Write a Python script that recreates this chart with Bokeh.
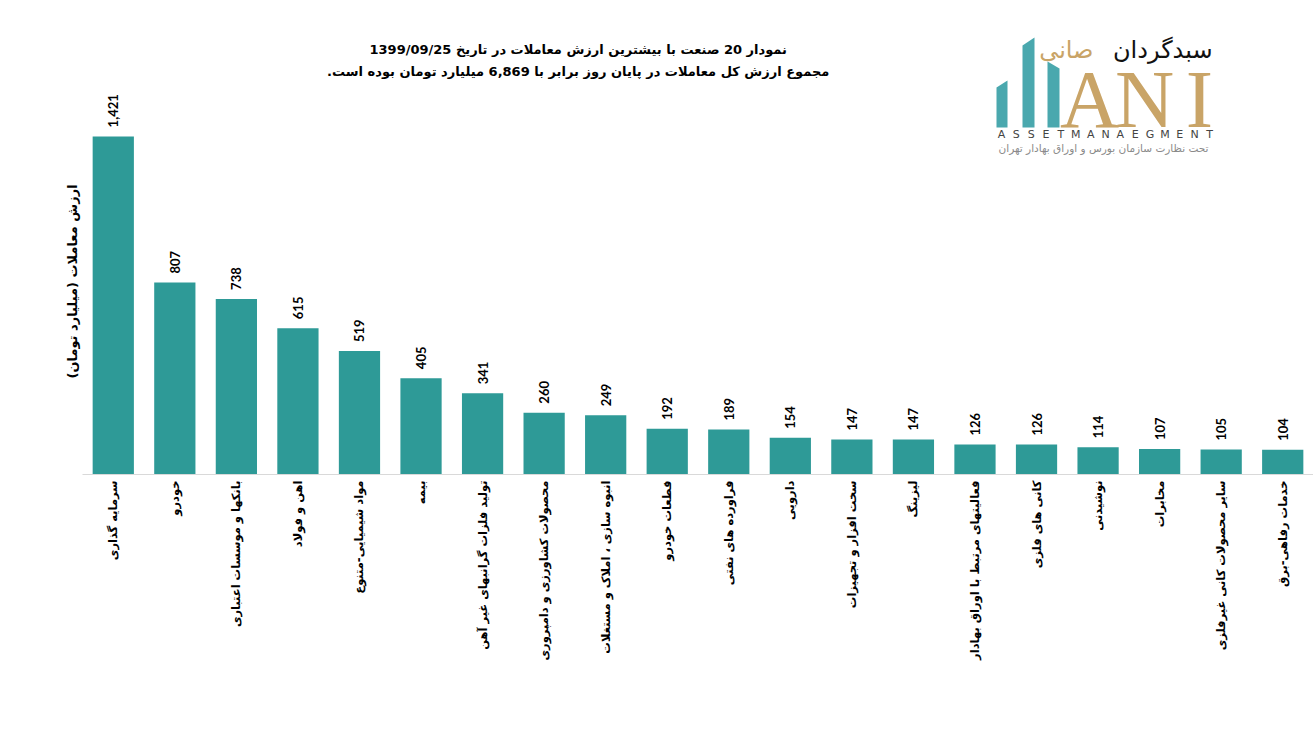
import math
from bokeh.plotting import figure
from bokeh.models import FactorRange, Range1d, ColumnDataSource, Title
from bokeh.core.properties import value
from bokeh.embed import file_html
from bokeh.resources import INLINE

RLM = "\u200f"

# ---------------- data ----------------
categories = [
    "سرمایه گذاری",
    "خودرو",
    "بانکها و موسسات اعتباری",
    "اهن و فولاد",
    "مواد شیمیایی-متنوع",
    "بیمه",
    "تولید فلزات گرانبهای غیر آهن",
    "محصولات کشاورزی و دامپروری",
    "انبوه سازی ، املاک و مستغلات",
    "قطعات خودرو",
    "فراورده های نفتی",
    "دارویی",
    "سخت افزار و تجهیزات",
    "لیزینگ",
    "فعالیتهای مرتبط با اوراق بهادار",
    "کانی های فلزی",
    "نوشیدنی",
    "مخابرات",
    "سایر محصولات کانی غیرفلزی",
    "خدمات رفاهی-برق",
]
values = [1421, 807, 738, 615, 519, 405, 341, 260, 249, 192,
          189, 154, 147, 147, 126, 126, 114, 107, 105, 104]
value_labels = [f"{v:,}" for v in values]

title_line1 = "نمودار  20 صنعت با بیشترین ارزش معاملات در تاریخ 1399/09/25"
title_line2 = "مجموع ارزش  کل معاملات در پایان روز برابر با 6,869 میلیارد تومان بوده است."
y_title = "ارزش معاملات (میلیارد تومان)"

logo_fa_black = "سبدگردان"
logo_fa_tan = "صانی"
logo_latin = ["A", "N", "I"]
logo_en_small = "ASSETMANAEGMENT"
logo_fa_small = "تحت نظارت سازمان بورس و اوراق بهادار تهران"

# ---------------- styles ----------------
BAR = "#2E9A97"
TEAL = "#4AA8AE"
TAN = "#C9A467"
FA_FONT = "DejaVu Sans"

FRAME_L, FRAME_R = 82, 1313
FRAME_T, FRAME_B = 30, 474


def px(xp):
    """page-pixel x -> categorical synthetic coordinate (decorations only)"""
    return (xp - FRAME_L) / (FRAME_R - FRAME_L) * len(categories)


p = figure(
    x_range=FactorRange(factors=categories),
    y_range=Range1d(0, 1866),
    width=1313, height=743,
    output_backend="svg", toolbar_location=None,
    min_border_left=FRAME_L, min_border_right=0,
    min_border_top=FRAME_T, min_border_bottom=743 - FRAME_B,
)
p.extra_y_ranges = {"px": Range1d(FRAME_B, FRAME_T)}

p.outline_line_color = None
p.grid.grid_line_color = None
p.background_fill_color = "white"
p.border_fill_color = "white"

src = ColumnDataSource(dict(cat=categories, val=values, lbl=value_labels))
p.vbar(x="cat", top="val", width=0.67, source=src, fill_color=BAR, line_color=None)
p.text(x="cat", y="val", text="lbl", source=src, angle=math.pi / 2,
       text_align="left", text_baseline="middle", y_offset=-9,
       text_font=value("Lato"), text_font_style="bold",
       text_font_size="13px", text_color="black")

# x axis
xa = p.xaxis[0]
xa.axis_line_color = "#d9d9d9"
xa.axis_line_width = 1
xa.major_tick_line_color = None
xa.minor_tick_line_color = None
xa.major_tick_out = 0
xa.major_tick_in = 0
xa.major_label_standoff = 6
xa.major_label_orientation = math.pi / 2
xa.major_label_text_font = FA_FONT
xa.major_label_text_font_style = "bold"
xa.major_label_text_font_size = "11.5px"
xa.major_label_text_color = "black"

# y axis: hidden, its title drawn as a side title
p.yaxis.visible = False
p.add_layout(Title(text=RLM + y_title + RLM, align="left", offset=96,
                   standoff=6,
                   text_font=FA_FONT, text_font_style="bold",
                   text_font_size="13px", text_color="black"), "left")

# title lines
p.text(x=[px(580), px(580)], y=[49, 71],
       text=[RLM + title_line1 + RLM, RLM + title_line2 + RLM],
       y_range_name="px",
       text_align="center", text_baseline="middle",
       text_font=value(FA_FONT), text_font_style="bold",
       text_font_size="13px", text_color="black")

# logo: teal bars with slanted tops
p.patches(
    xs=[[px(v) for v in poly] for poly in
        [[996, 1007, 1007, 996], [1022, 1034, 1034, 1022], [1047, 1059, 1059, 1047]]],
    ys=[[87, 80, 127, 127], [45, 37, 127, 127], [61, 68, 127, 127]],
    y_range_name="px",
    fill_color=TEAL, line_color=None)
p.text(x=[px(1089), px(1144), px(1199)], y=[99, 99, 99], text=logo_latin,
       y_range_name="px",
       text_align="center", text_baseline="middle",
       text_font=value("Liberation Serif"), text_font_size="82px",
       text_color=TAN)
p.text(x=[px(1212)], y=[49], text=[logo_fa_black],
       y_range_name="px",
       text_align="right", text_baseline="middle",
       text_font=value(FA_FONT), text_font_size="24px", text_color="#111111")
p.text(x=[px(1093)], y=[49], text=[logo_fa_tan],
       y_range_name="px",
       text_align="right", text_baseline="middle",
       text_font=value(FA_FONT), text_font_size="24px", text_color=TAN)
n = len(logo_en_small)
p.text(x=[px(1001 + i * (208 / (n - 1))) for i in range(n)], y=[134] * n,
       text=list(logo_en_small),
       y_range_name="px",
       text_align="center", text_baseline="middle",
       text_font=value("DejaVu Sans"), text_font_size="11px", text_color="#444444")
p.text(x=[px(1103)], y=[147], text=[logo_fa_small],
       y_range_name="px",
       text_align="center", text_baseline="middle",
       text_font=value(FA_FONT), text_font_size="10.5px", text_color="#8a8a8a")

open("out.html", "w").write(file_html(p, INLINE))
